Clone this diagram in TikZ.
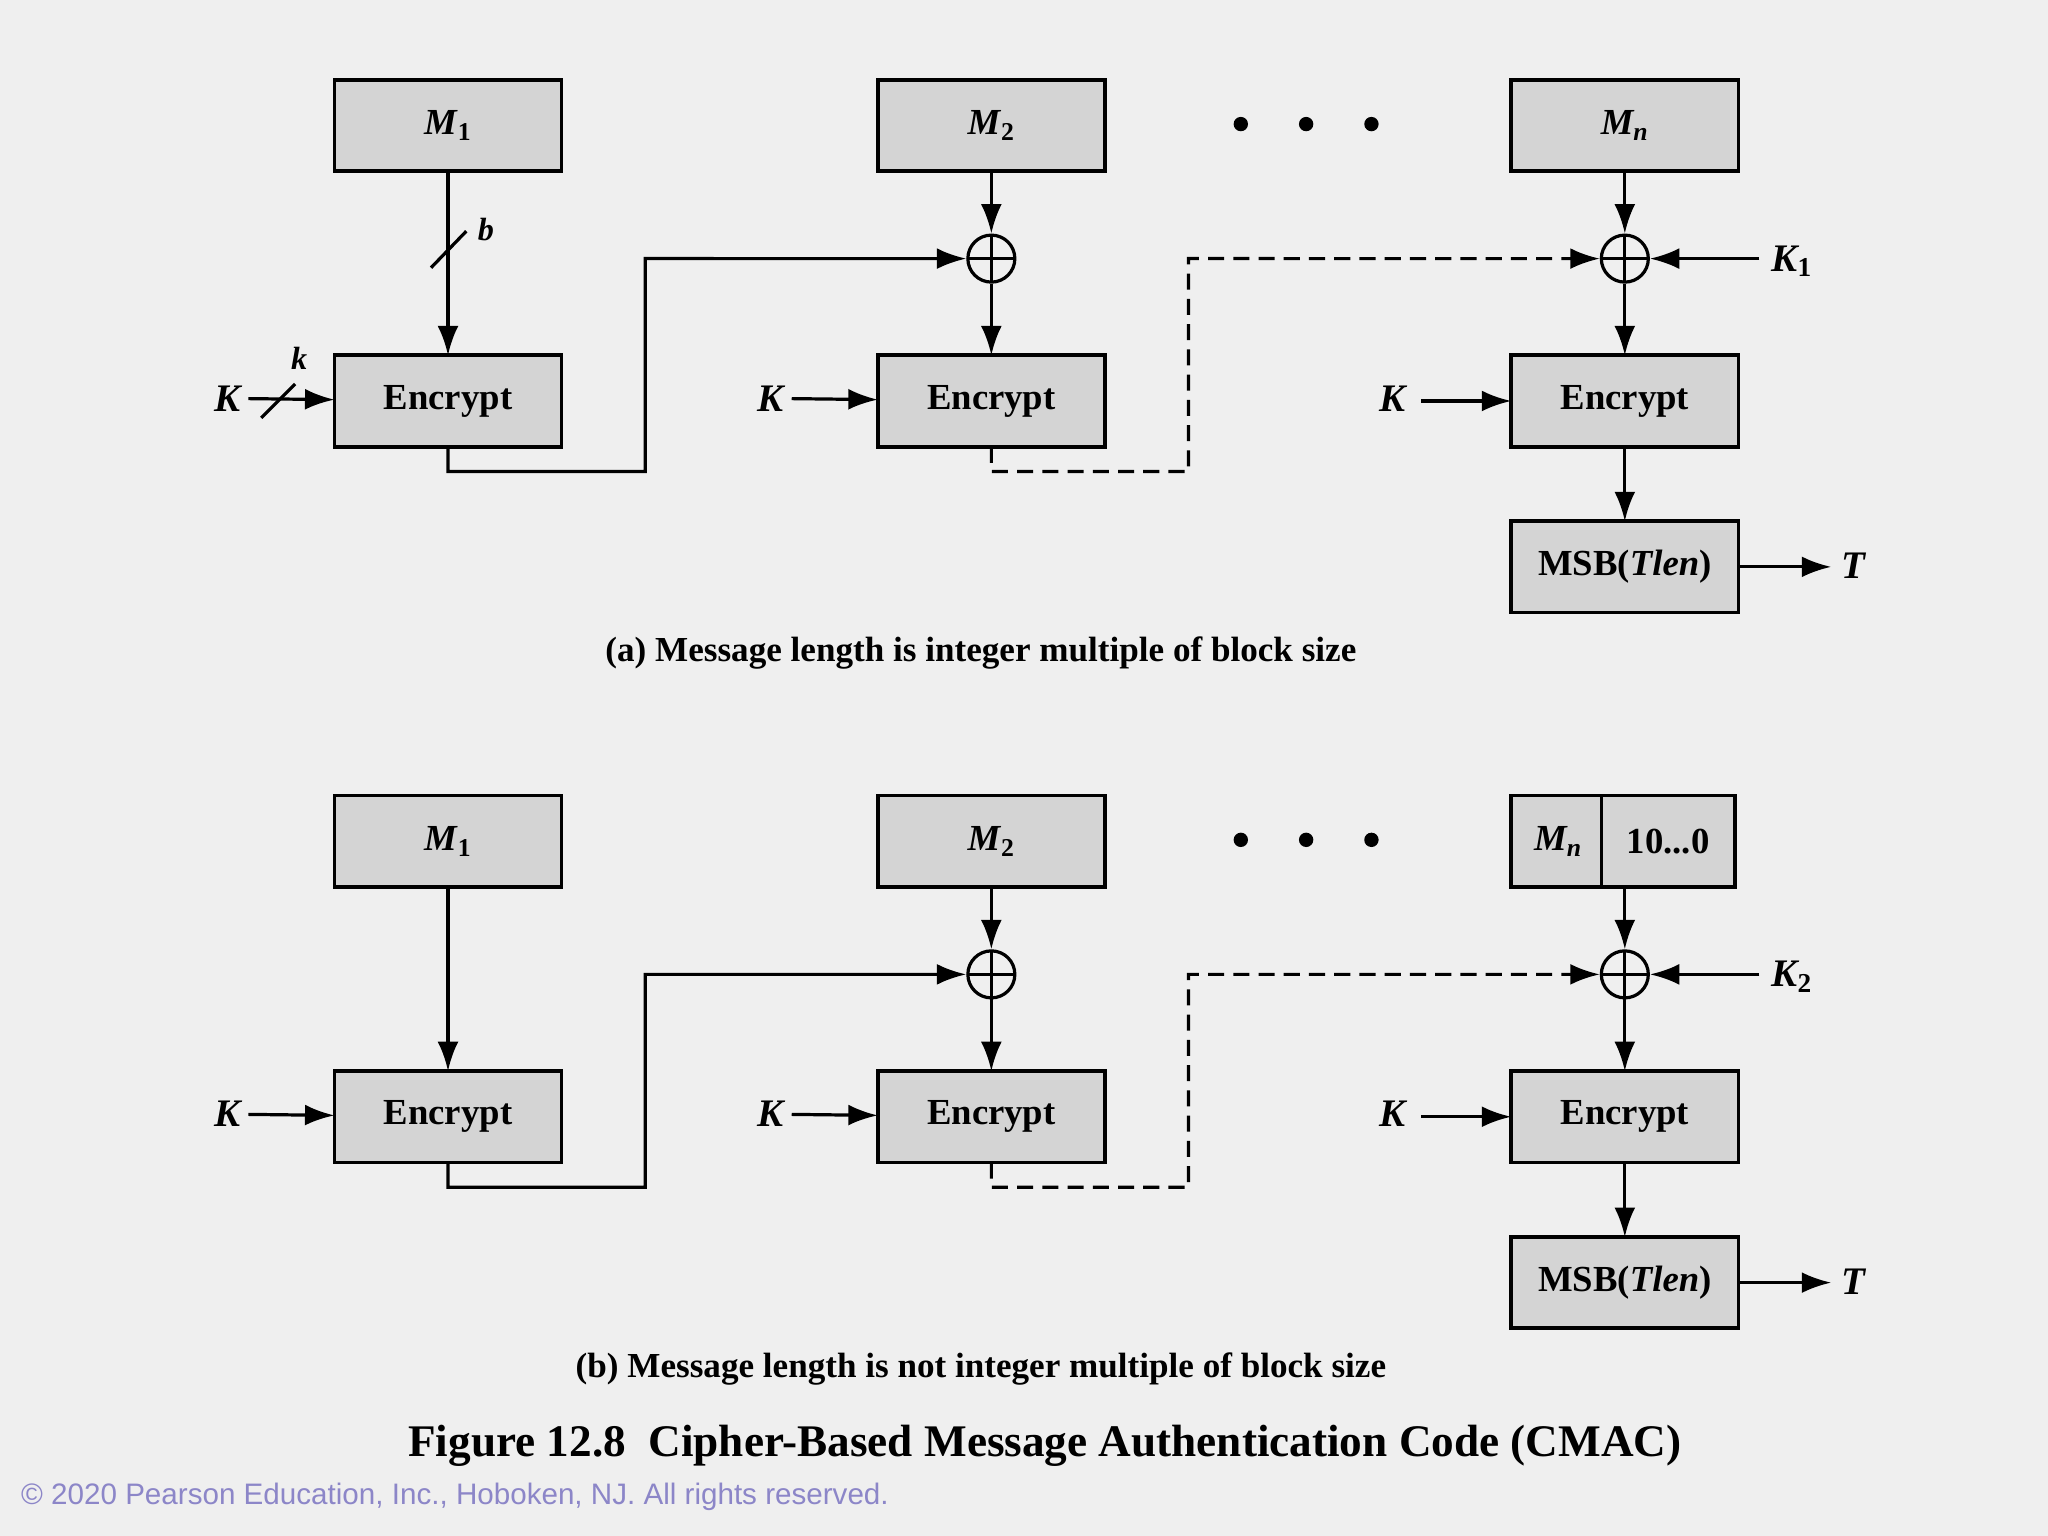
\documentclass[tikz,border=0pt]{standalone}
\usepackage{amsmath,bm}
\usepackage{fontspec}
\setmainfont{Liberation Serif}
\newfontfamily\sans{Liberation Sans}
\usetikzlibrary{arrows.meta,positioning}
\definecolor{bg}{HTML}{EFEFEF}
\definecolor{boxgray}{HTML}{D4D4D4}
\definecolor{copy}{HTML}{8C86C8}
\tikzset{
  blk/.style = {draw, line width=1.6pt, fill=boxgray, outer sep=0pt, minimum width=3.48cm, minimum height=1.4cm, font=\fontsize{16}{19}\selectfont\bfseries},
  xor/.style = {draw, circle, line width=1.4pt, minimum size=0.72cm, inner sep=0pt,
    path picture={\draw[line width=1.4pt] (path picture bounding box.north) -- (path picture bounding box.south)
      (path picture bounding box.west) -- (path picture bounding box.east);}},
  lbl/.style = {font=\fontsize{17}{20}\selectfont\bfseries\itshape},
  conn/.style = {line width=1.4pt},
  arr/.style = {conn, -{Latex[length=0.45cm,width=0.32cm]}},
}
\begin{document}
\begin{tikzpicture}[x=0.02cm, y=-0.02cm]
\fill[bg] (0,0) rectangle (1568,1176);
\useasboundingbox (0,0) rectangle (1568,1176);
\foreach \p/\dy/\kk/\cap in {a/0/1/(a) Message length is integer multiple of block size,
                             b/548/2/(b) Message length is not integer multiple of block size} {
  % message blocks
  \node[blk] (m1\p) at (343,96+\dy) {\textit{M}\textsubscript{1}};
  \node[blk] (m2\p) at (759,96+\dy) {\textit{M}\textsubscript{2}};
  \foreach \x in {950,1000,1050} \fill (\x,95+\dy) circle (5.5);
  % xors
  \node[xor] (x2\p) at (759,198+\dy) {};
  \node[xor] (xn\p) at (1244,198+\dy) {};
  % encrypt blocks
  \node[blk] (e1\p) at (343,307+\dy) {Encrypt};
  \node[blk] (e2\p) at (759,307+\dy) {Encrypt};
  \node[blk] (en\p) at (1244,307+\dy) {Encrypt};
  \node[blk] (msb\p) at (1244,434+\dy) {MSB(\textit{Tlen})};
  % keys
  \node[lbl] (k1\p) at (174,305+\dy) {K};
  \node[lbl] (k2\p) at (590,305+\dy) {K};
  \node[lbl] (k3\p) at (1066,305+\dy) {K};
  \node[lbl] (kx\p) at (1372,200+\dy) {K\textsubscript{\upshape\kk}};
  \coordinate (kxs\p) at (1347,198+\dy);
  \node[lbl] (t\p) at (1419,433+\dy) {T};
  \coordinate (ts\p) at (1402,434+\dy);
  \draw[arr] (k1\p) -- (e1\p);
  \draw[arr] (k2\p) -- (e2\p);
  \draw[arr] (1088,307+\dy) -- (en\p);
  \draw[arr] (m1\p) -- (e1\p);
  \draw[arr] (m2\p) -- (x2\p);
  \draw[arr] (x2\p) -- (e2\p);
  \draw[arr] (xn\p) -- (en\p);
  \draw[arr] (en\p) -- (msb\p);
  \draw[arr] (kxs\p) -- (xn\p);
  \draw[arr] (msb\p) -- (ts\p);
  \draw[arr] (e1\p.south) |- ++(151,19) -- ++(0,-163) -- (x2\p);
  \draw[arr, dash pattern=on 7pt off 4pt] (e2\p.south) |- ++(151,19) -- ++(0,-163) -- (xn\p);
  \node[font=\fontsize{15.3}{18}\selectfont\bfseries] (cap\p) at (751,500+\dy) {\cap};
}
% last blocks
\node[blk] (mna) at (1244,96) {\textit{M\textsubscript{n}}};
\draw[arr] (mna) -- (xna);
\node[blk, minimum width=1.44cm, anchor=west] (mnb) at (1157,644) {\textit{M\textsubscript{n}}};
\node[blk, minimum width=2.04cm, anchor=west, xshift=-1.6pt] (padb) at (mnb.east) {10...0};
\draw[arr] (padb.south -| xnb.north) -- (xnb);
% size marks
\draw[conn] (330,205) -- (357,177);
\node[font=\fontsize{14}{16}\selectfont\bfseries\itshape] (bw) at (372,176) {b};
\draw[conn] (200,320) -- (226,294);
\node[font=\fontsize{14}{16}\selectfont\bfseries\itshape] (kw) at (229,274) {k};
% title
\node[font=\fontsize{19.7}{24}\selectfont\bfseries] (title) at (800,1107) {Figure 12.8\ \ Cipher-Based Message Authentication Code (CMAC)};
\node[anchor=west, text=copy, font=\sans\fontsize{12.9}{16}\selectfont] (cr) at (10,1146) {© 2020 Pearson Education, Inc., Hoboken, NJ. All rights reserved.};
\end{tikzpicture}
\end{document}
